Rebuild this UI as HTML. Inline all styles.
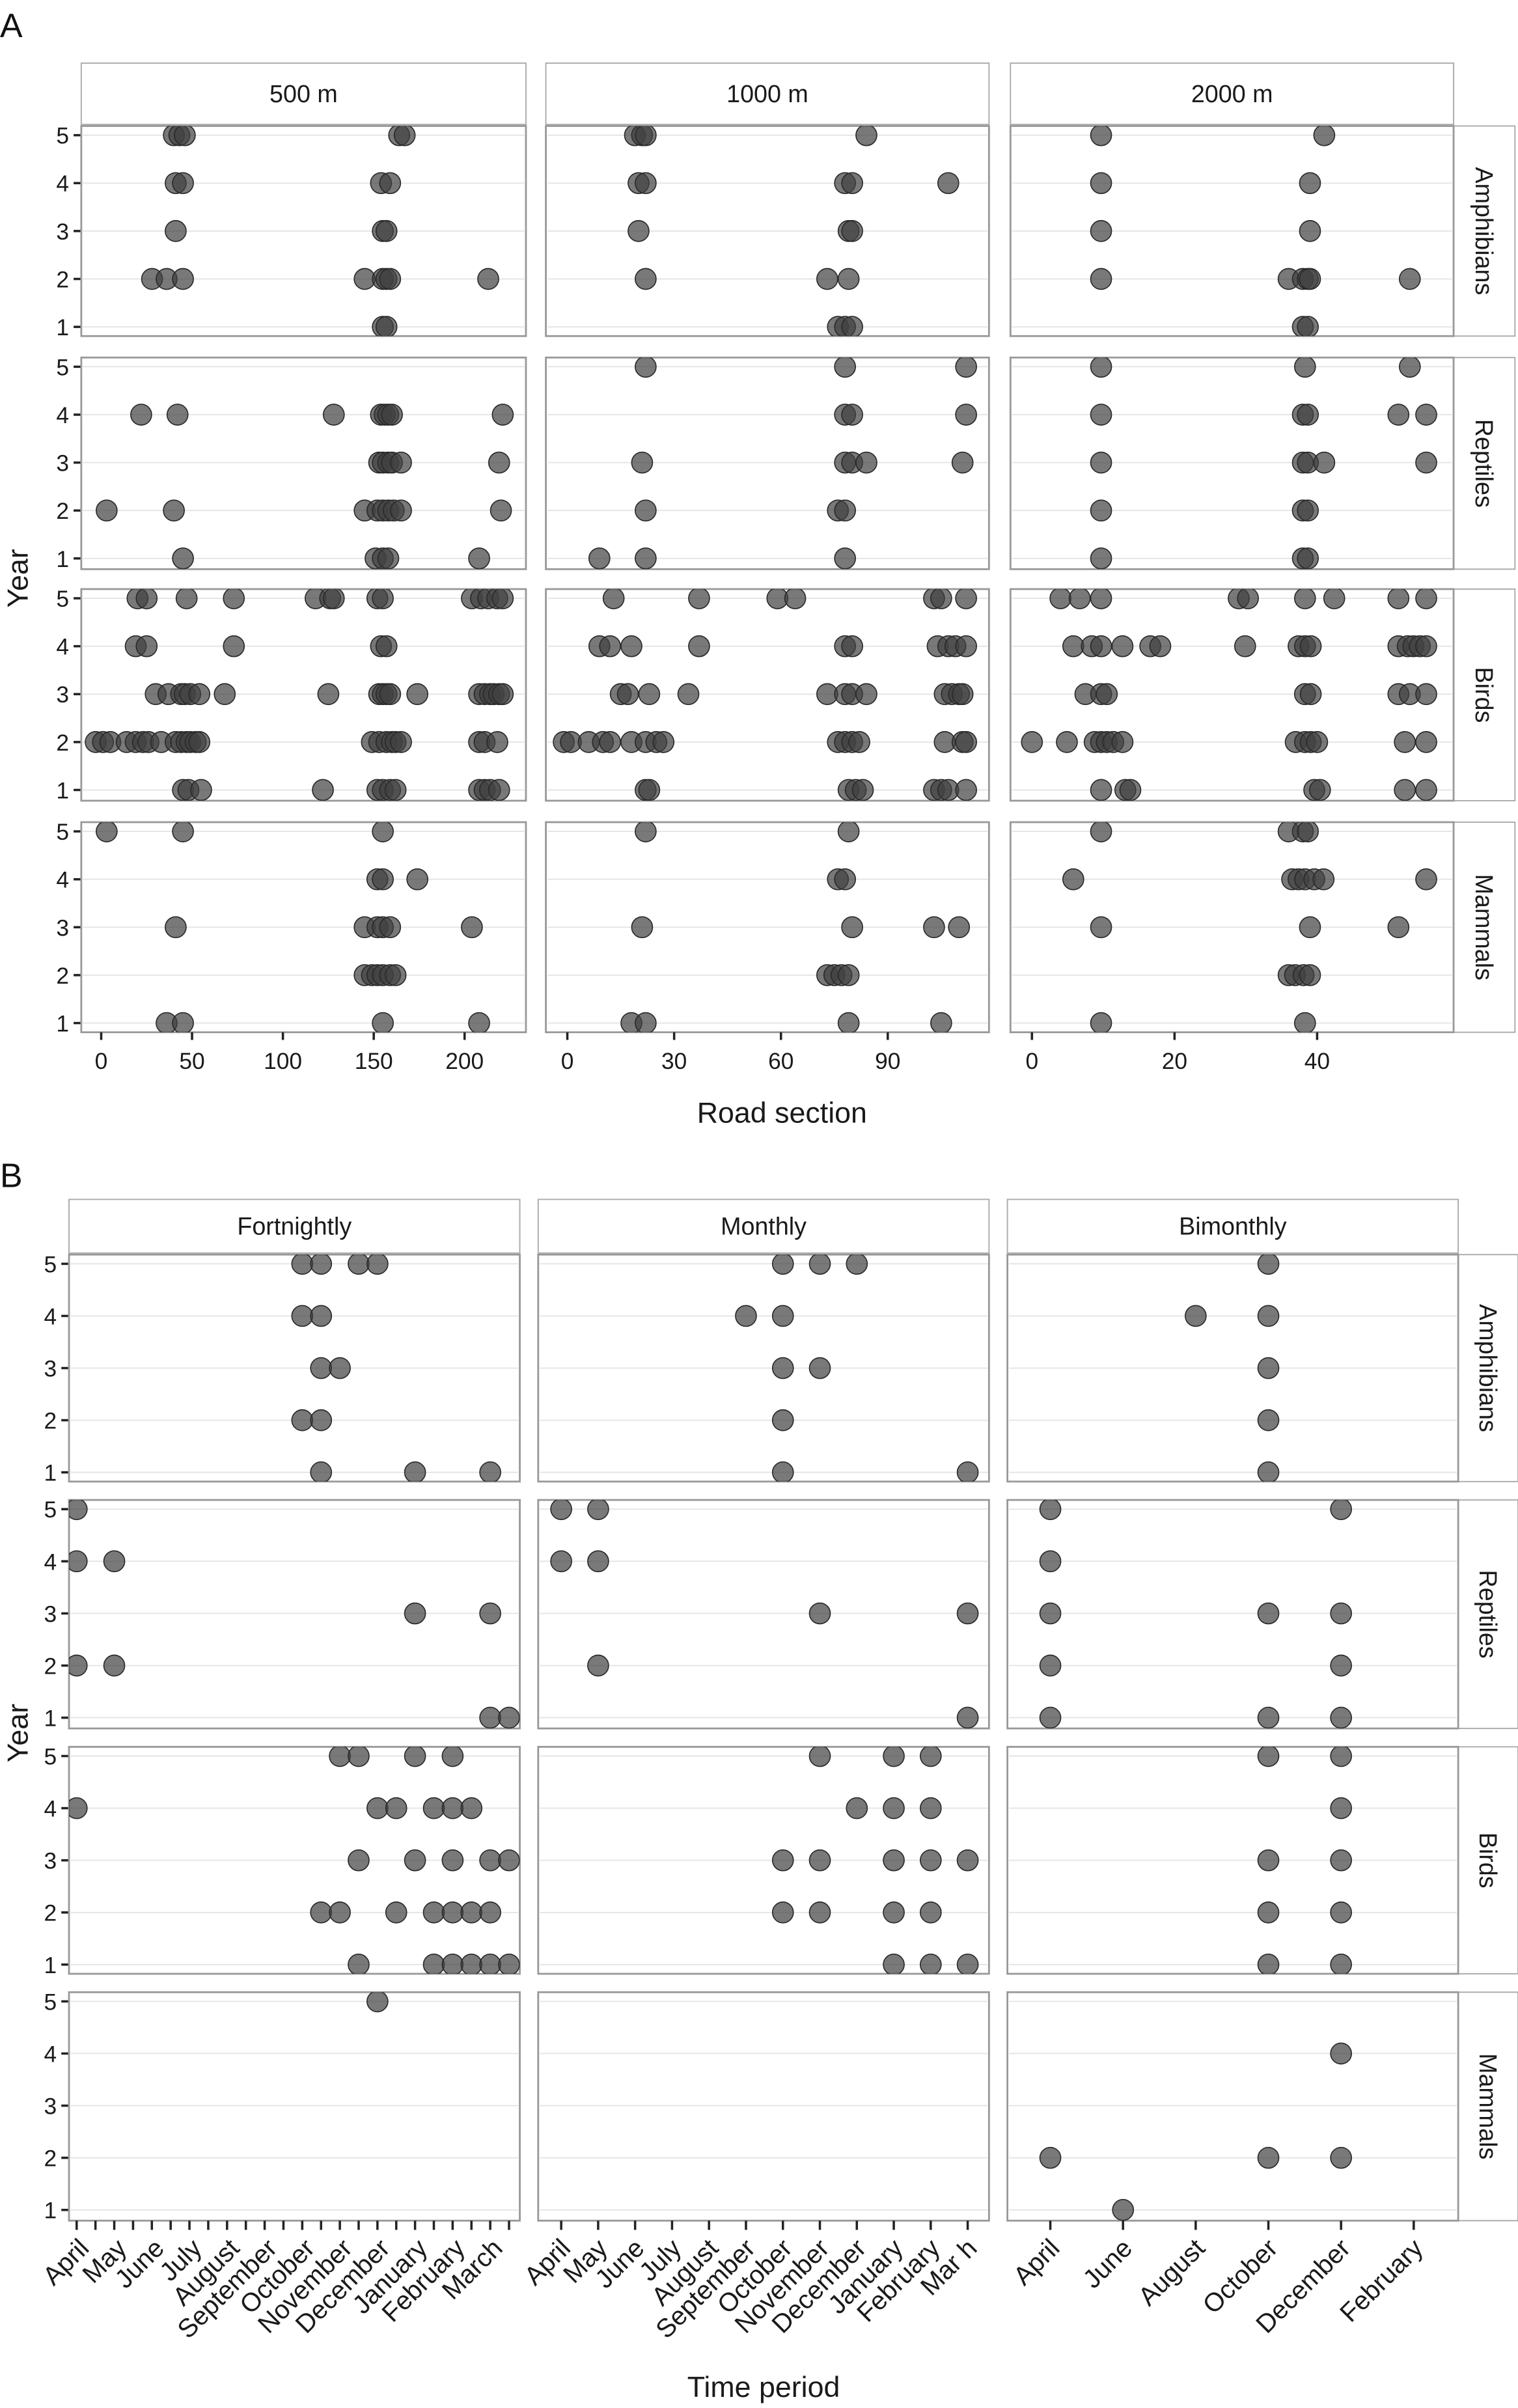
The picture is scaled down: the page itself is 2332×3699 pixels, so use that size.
<!DOCTYPE html>
<html><head><meta charset="utf-8"><style>
html,body{margin:0;padding:0;background:#fff;}
svg{display:block;font-family:"Liberation Sans",sans-serif;}
</style></head><body>
<svg id="chart" width="2332" height="3699" viewBox="0 0 990 1570" xmlns="http://www.w3.org/2000/svg"></svg>
<script>
// ---------- DATA ----------
const taxa = ["Amphibians","Reptiles","Birds","Mammals"];
const scalesA = ["500 m","1000 m","2000 m"];
const scalesB = ["Fortnightly","Monthly","Bimonthly"];
const ticksA = [[0,50,100,150,200],[0,30,60,90],[0,20,40]];
const monthsFort = ["April","May","June","July","August","September","October","November","December","January","February","March"];
const monthsMon = ["April","May","June","July","August","September","October","November","December","January","February","Mar h"];
const monthsBi = ["April","June","August","October","December","February"];
const yearTicks = [1,2,3,4,5];

// Panel A: [roadSection, year]
const a500Amph = [[40,5],[43,5],[46,5],[164,5],[167,5],[41,4],[45,4],[154,4],[159,4],[41,3],[155,3],[157,3],[28,2],[36,2],[45,2],[145,2],[155,2],[157,2],[159,2],[213,2],[155,1],[157,1]];
const a500Rept = [[22,4],[42,4],[128,4],[154,4],[156,4],[158,4],[160,4],[221,4],[153,3],[155,3],[158,3],[160,3],[165,3],[219,3],[3,2],[40,2],[145,2],[152,2],[155,2],[158,2],[161,2],[165,2],[220,2],[45,1],[151,1],[155,1],[158,1],[208,1]];
const a500Bird = [[20,5],[25,5],[47,5],[73,5],[118,5],[126,5],[128,5],[152,5],[155,5],[204,5],[209,5],[213,5],[218,5],[221,5],[19,4],[25,4],[73,4],[154,4],[157,4],[30,3],[37,3],[44,3],[46,3],[49,3],[54,3],[68,3],[125,3],[153,3],[155,3],[157,3],[159,3],[174,3],[208,3],[211,3],[214,3],[216,3],[219,3],[221,3],[-3,2],[1,2],[5,2],[14,2],[19,2],[23,2],[26,2],[33,2],[41,2],[44,2],[47,2],[49,2],[52,2],[54,2],[149,2],[153,2],[157,2],[160,2],[162,2],[165,2],[208,2],[211,2],[218,2],[45,1],[48,1],[55,1],[122,1],[152,1],[155,1],[159,1],[162,1],[208,1],[211,1],[214,1],[219,1]];
const a500Mamm = [[3,5],[45,5],[155,5],[152,4],[155,4],[174,4],[41,3],[145,3],[152,3],[155,3],[159,3],[204,3],[145,2],[149,2],[152,2],[155,2],[159,2],[162,2],[36,1],[45,1],[155,1],[208,1]];
const a1000Amph = [[19,5],[21,5],[22,5],[84,5],[20,4],[22,4],[78,4],[80,4],[107,4],[20,3],[79,3],[80,3],[22,2],[73,2],[79,2],[76,1],[78,1],[80,1]];
const a1000Rept = [[22,5],[78,5],[112,5],[78,4],[80,4],[112,4],[21,3],[78,3],[80,3],[84,3],[111,3],[22,2],[76,2],[78,2],[9,1],[22,1],[78,1]];
const a1000Bird = [[13,5],[37,5],[59,5],[64,5],[103,5],[105,5],[112,5],[9,4],[12,4],[18,4],[37,4],[78,4],[80,4],[104,4],[107,4],[109,4],[112,4],[15,3],[17,3],[23,3],[34,3],[73,3],[78,3],[80,3],[84,3],[106,3],[108,3],[110,3],[111,3],[-1,2],[1,2],[6,2],[10,2],[12,2],[18,2],[22,2],[25,2],[27,2],[76,2],[78,2],[80,2],[82,2],[106,2],[111,2],[112,2],[22,1],[23,1],[79,1],[81,1],[83,1],[103,1],[105,1],[107,1],[112,1]];
const a1000Mamm = [[22,5],[79,5],[76,4],[78,4],[21,3],[80,3],[103,3],[110,3],[73,2],[75,2],[77,2],[79,2],[18,1],[22,1],[79,1],[105,1]];
const a2000Amph = [[9.7,5],[41,5],[9.7,4],[39,4],[9.7,3],[39,3],[9.7,2],[36,2],[38,2],[38.7,2],[39,2],[53,2],[38,1],[38.7,1]];
const a2000Rept = [[9.7,5],[38.3,5],[53,5],[9.7,4],[38,4],[38.7,4],[51.4,4],[55.3,4],[9.7,3],[38,3],[38.7,3],[41,3],[55.3,3],[9.7,2],[38,2],[38.7,2],[9.7,1],[38,1],[38.7,1]];
const a2000Bird = [[4,5],[6.7,5],[9.7,5],[29,5],[30.3,5],[38.3,5],[42.4,5],[51.4,5],[55.3,5],[5.8,4],[8.4,4],[9.7,4],[12.7,4],[16.6,4],[18,4],[29.9,4],[37.4,4],[38.3,4],[39.1,4],[51.4,4],[52.7,4],[53.5,4],[54.4,4],[55.3,4],[7.5,3],[9.7,3],[10.5,3],[38.3,3],[39.1,3],[51.4,3],[53,3],[55.3,3],[0,2],[4.9,2],[8.8,2],[9.7,2],[10.5,2],[11.4,2],[12.7,2],[37,2],[38.3,2],[39.1,2],[40,2],[52.3,2],[55.3,2],[9.7,1],[13.1,1],[13.8,1],[39.6,1],[40.4,1],[52.3,1],[55.3,1]];
const a2000Mamm = [[9.7,5],[36,5],[38,5],[38.7,5],[5.8,4],[36.5,4],[37.4,4],[38.3,4],[39.6,4],[40.9,4],[55.3,4],[9.7,3],[39,3],[51.4,3],[36,2],[36.9,2],[38.1,2],[39,2],[9.7,1],[38.3,1]];

// Panel B: [periodIndex, year]
const bFortAmph = [[12,5],[13,5],[15,5],[16,5],[12,4],[13,4],[13,3],[14,3],[12,2],[13,2],[13,1],[18,1],[22,1]];
const bFortRept = [[0,5],[0,4],[2,4],[18,3],[22,3],[0,2],[2,2],[22,1],[23,1]];
const bFortBird = [[14,5],[15,5],[18,5],[20,5],[0,4],[16,4],[17,4],[19,4],[20,4],[21,4],[15,3],[18,3],[20,3],[22,3],[23,3],[13,2],[14,2],[17,2],[19,2],[20,2],[21,2],[22,2],[15,1],[19,1],[20,1],[21,1],[22,1],[23,1]];
const bFortMamm = [[16,5]];
const bMonAmph = [[6,5],[7,5],[8,5],[5,4],[6,4],[6,3],[7,3],[6,2],[6,1],[11,1]];
const bMonRept = [[0,5],[1,5],[0,4],[1,4],[7,3],[11,3],[1,2],[11,1]];
const bMonBird = [[7,5],[9,5],[10,5],[8,4],[9,4],[10,4],[6,3],[7,3],[9,3],[10,3],[11,3],[6,2],[7,2],[9,2],[10,2],[9,1],[10,1],[11,1]];
const bMonMamm = [];
const bBiAmph = [[3,5],[2,4],[3,4],[3,3],[3,2],[3,1]];
const bBiRept = [[0,5],[4,5],[0,4],[0,3],[3,3],[4,3],[0,2],[4,2],[0,1],[3,1],[4,1]];
const bBiBird = [[3,5],[4,5],[4,4],[3,3],[4,3],[3,2],[4,2],[3,1],[4,1]];
const bBiMamm = [[4,4],[0,2],[3,2],[4,2],[1,1]];

const dataA = [[a500Amph,a500Rept,a500Bird,a500Mamm],[a1000Amph,a1000Rept,a1000Bird,a1000Mamm],[a2000Amph,a2000Rept,a2000Bird,a2000Mamm]];
const dataB = [[bFortAmph,bFortRept,bFortBird,bFortMamm],[bMonAmph,bMonRept,bMonBird,bMonMamm],[bBiAmph,bBiRept,bBiBird,bBiMamm]];

// ---------- LAYOUT ----------
const NS="http://www.w3.org/2000/svg";
const svg=document.getElementById('chart');
function mk(tag,attrs,parent,text){const e=document.createElementNS(NS,tag);for(const k in attrs)e.setAttribute(k,attrs[k]);if(text!==undefined)e.textContent=text;(parent||svg).appendChild(e);return e;}

const A={cols:[[53,343],[356,645],[659,948]],rows:[[82,219],[233,371],[384,522],[536,673]],strip:[41,81],rstrip:[948,988],
 xs:[u=>66+u*1.185,u=>370+u*2.322,u=>673+u*4.65],yoff:6,ystep:31.25};
const B={cols:[[45,339],[351,645],[657,951]],rows:[[818,966],[978,1127],[1139,1287],[1299,1448]],strip:[782,817],rstrip:[951,990],
 xs:[i=>50+i*12.26,i=>366+i*24.1,i=>685+i*47.4],yoff:6,ystep:34};

function drawPanelSet(L,scales,data,prefix){
  scales.forEach((s,c)=>{
    const [x0,x1]=L.cols[c];
    const g=mk('g',{});
    
    
    mk('rect',{x:x0,y:L.strip[0],width:x1-x0,height:L.strip[1]-L.strip[0],fill:'#fff',stroke:'#aaa','stroke-width':0.8},g);
    mk('text',{x:(x0+x1)/2,y:(L.strip[0]+L.strip[1])/2+5.5,'text-anchor':'middle','font-size':16,fill:'#1a1a1a'},g,s);
  });
  taxa.forEach((t,r)=>{
    const [y0,y1]=L.rows[r];
    const g=mk('g',{});
    
    
    mk('rect',{x:L.rstrip[0],y:y0,width:L.rstrip[1]-L.rstrip[0],height:y1-y0,fill:'#fff',stroke:'#aaa','stroke-width':0.8},g);
    const cx=(L.rstrip[0]+L.rstrip[1])/2, cy=(y0+y1)/2;
    mk('text',{x:cx,y:cy,'text-anchor':'middle','dominant-baseline':'central','font-size':16,fill:'#1a1a1a',transform:`rotate(90 ${cx} ${cy})`},g,t);
    const yv=v=>y0+L.yoff+(5-v)*L.ystep;
    yearTicks.forEach(v=>{
      const yy=yv(v);
      mk('line',{x1:L.cols[0][0]-5,x2:L.cols[0][0],y1:yy,y2:yy,stroke:'#222','stroke-width':1.5});
      mk('text',{x:L.cols[0][0]-8,y:yy+5.5,'text-anchor':'end','font-size':15,fill:'#1a1a1a'},svg,String(v));
    });
    scales.forEach((s,c)=>{
      const [x0,x1]=L.cols[c];
      const p=mk('g',{});
      
      
      mk('rect',{x:x0,y:y0,width:x1-x0,height:y1-y0,fill:'#fff',stroke:'#999','stroke-width':1.2},p);
      yearTicks.forEach(v=>mk('line',{x1:x0+1,x2:x1-1,y1:yv(v),y2:yv(v),stroke:'#e4e4e4','stroke-width':0.8},p));
      const cp='clip-'+prefix+c+r;
      const cl=mk('clipPath',{id:cp},p); mk('rect',{x:x0,y:y0,width:x1-x0,height:y1-y0},cl);
      const dg=mk('g',{'clip-path':`url(#${cp})`},p);
      data[c][r].forEach(d=>{
        const e=mk('circle',{cx:L.xs[c](d[0]),cy:yv(d[1]),r:6.8,fill:'#404040','fill-opacity':0.7,stroke:'#2a2a2a','stroke-width':0.7},dg);
        
        
      });
    });
  });
}
drawPanelSet(A,scalesA,dataA,'a');
drawPanelSet(B,scalesB,dataB,'b');

ticksA.forEach((tk,c)=>{
  const yb=A.rows[3][1];
  tk.forEach(v=>{
    const xx=A.xs[c](v);
    mk('line',{x1:xx,x2:xx,y1:yb,y2:yb+5,stroke:'#222','stroke-width':1.5});
    mk('text',{x:xx,y:yb+24,'text-anchor':'middle','font-size':15,fill:'#1a1a1a'},svg,String(v));
  });
});
const bLabels=[monthsFort,monthsMon,monthsBi];
const bCounts=[24,12,6];
const bLabelStep=[2,1,1];
bCounts.forEach((n,c)=>{
  const yb=B.rows[3][1];
  for(let i=0;i<n;i++){const xx=B.xs[c](i);mk('line',{x1:xx,x2:xx,y1:yb,y2:yb+6,stroke:'#222','stroke-width':1.5});}
  bLabels[c].forEach((m,k)=>{
    const xx=B.xs[c](k*bLabelStep[c])+ (c===0?9:7);
    const yy=yb+19;
    mk('text',{x:xx,y:yy,'text-anchor':'end','font-size':17,fill:'#1a1a1a',transform:`rotate(-45 ${xx} ${yy})`},svg,m);
  });
});

const tA=mk('text',{x:0,y:24,'font-size':22,fill:'#111'},svg,'A');  
const tB=mk('text',{x:0,y:774,'font-size':22,fill:'#111'},svg,'B');  
const xa=mk('text',{x:510,y:732,'text-anchor':'middle','font-size':19,fill:'#1a1a1a'},svg,'Road section');  
const xb=mk('text',{x:498,y:1563,'text-anchor':'middle','font-size':19,fill:'#1a1a1a'},svg,'Time period');  
const ya=mk('text',{x:18,y:377,'text-anchor':'middle','font-size':19,fill:'#1a1a1a',transform:'rotate(-90 18 377)'},svg,'Year');  
const yb2=mk('text',{x:18,y:1130,'text-anchor':'middle','font-size':19,fill:'#1a1a1a',transform:'rotate(-90 18 1130)'},svg,'Year');  
</script>
</body></html>
